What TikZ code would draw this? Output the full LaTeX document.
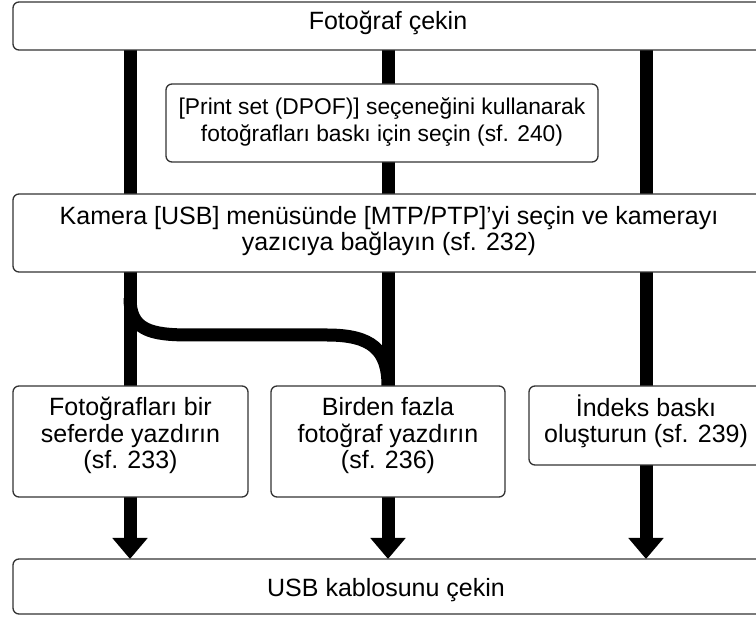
\documentclass[tikz,border=0pt]{standalone}
\usepackage{fontspec}
\setmainfont{Liberation Sans}
\usetikzlibrary{arrows.meta}
\pgfdeclarelayer{background}
\pgfsetlayers{background,main}
\begin{document}
\begin{tikzpicture}[x=1pt,y=-1pt,
  box/.style={draw=black!80, line width=1.3pt, rounded corners=6pt, fill=white, inner sep=0pt, outer sep=0pt},
  txt/.style={font=\fontsize{25}{26.7}\selectfont, align=center, anchor=base, inner sep=0pt},
  smalltxt/.style={txt, font=\fontsize{22.8}{27}\selectfont},
  flow/.style={line width=13pt, draw=black, line join=round},
  flowarrow/.style={flow, -{Triangle[length=21pt,width=34pt]}}
]
\useasboundingbox (0,0) rectangle (756,617);
\clip (0,0) rectangle (756,617);
\coordinate (c1) at (130,0);
\coordinate (c2) at (388,0);
\coordinate (c3) at (646,0);

% boxes
\node[box, minimum width=750pt, minimum height=48pt] (top) at (388,26) {};
\node[box, minimum width=432pt, minimum height=78pt] (dpof) at (382,123) {};
\node[box, minimum width=750pt, minimum height=78pt] (kam) at (388,233) {};
\node[box, minimum width=235pt, minimum height=111pt] (b1) at (130.5,441.5) {};
\node[box, minimum width=234pt, minimum height=111pt] (b2) at (388,441.5) {};
\node[box, minimum width=235pt, minimum height=79pt] (b3) at (646.5,425.5) {};
\node[box, minimum width=750pt, minimum height=55pt] (usb) at (388,586.5) {};

% texts (base anchor = baseline of the last line)
\node[txt] (topt) at (388,30) {Fotoğraf çekin};
\node[smalltxt] (dpoft) at (382,142) {[Print set (DPOF)] seçeneğini kullanarak\\fotoğrafları baskı için seçin (sf. 240)};
\node[txt] (kamt) at (389,251) {Kamera [USB] menüsünde [MTP/PTP]’yi seçin ve kamerayı\\yazıcıya bağlayın (sf. 232)};
\node[txt] (b1t) at (130.5,469) {Fotoğrafları bir\\seferde yazdırın\\(sf. 233)};
\node[txt] (b2t) at (388,469) {Birden fazla\\fotoğraf yazdırın\\(sf. 236)};
\node[txt] (b3t) at (646,443) {İndeks baskı\\oluşturun (sf. 239)};
\node[txt] (usbt) at (386,597) {USB kablosunu çekin};

% connectors
\begin{pgfonlayer}{background}
\draw[flow] (c1 |- top.south) -- (c1 |- kam.north);
\draw[flow] (c2 |- top.south) -- (c2 |- dpof.north);
\draw[flow] (c2 |- dpof.south) -- (c2 |- kam.north);
\draw[flow] (c3 |- top.south) -- (c3 |- kam.north);

\draw[flow] (c1 |- kam.south) -- (c1 |- b1.north);
\draw[flow] (c2 |- kam.south) -- (c2 |- b2.north);
\draw[flow] (c3 |- kam.south) -- (c3 |- b3.north);

\coordinate (split) at (130,298);
\draw[flow] (split) .. controls (130,330) and (150,335) .. (190,335) -- (327,335)
  .. controls (372,335) and (388,350) .. (c2 |- b2.north);

\draw[flowarrow] (c1 |- b1.south) -- (c1 |- usb.north);
\draw[flowarrow] (c2 |- b2.south) -- (c2 |- usb.north);
\draw[flowarrow] (c3 |- b3.south) -- (c3 |- usb.north);
\end{pgfonlayer}
\end{tikzpicture}
\end{document}
